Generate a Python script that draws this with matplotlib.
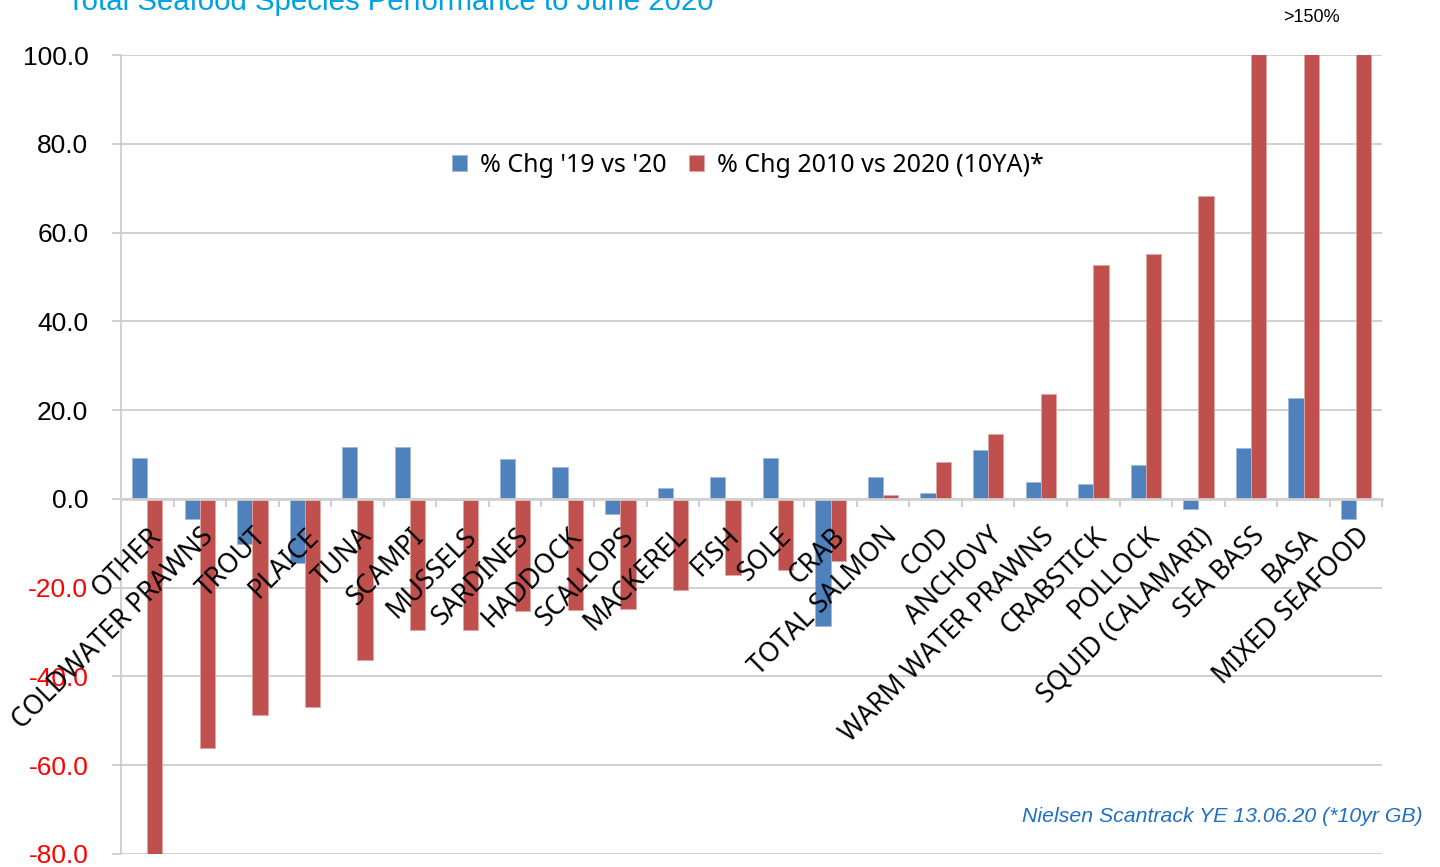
import matplotlib.pyplot as plt
import numpy as np

species = ['OTHER', 'COLDWATER PRAWNS', 'TROUT', 'PLAICE', 'TUNA', 'SCAMPI',
           'MUSSELS', 'SARDINES', 'HADDOCK', 'SCALLOPS', 'MACKEREL', 'FISH',
           'SOLE', 'CRAB', 'TOTAL SALMON', 'COD', 'ANCHOVY', 'WARM WATER PRAWNS',
           'CRABSTICK', 'POLLOCK', 'SQUID (CALAMARI)', 'SEA BASS', 'BASA',
           'MIXED SEAFOOD']
chg_1y = [9.2, -4.5, -10.1, -14.4, 11.7, 11.7, -0.3, 9.0, 7.2, -3.4, 2.5, 5.0,
          9.2, -28.6, 5.0, 1.4, 11.0, 3.8, 3.4, 7.6, -2.3, 11.5, 22.7, -4.5]
chg_10y = [-82.0, -56.1, -48.7, -46.9, -36.3, -29.5, -29.5, -25.2, -25.0, -24.8,
           -20.5, -17.1, -16.0, -14.0, 0.9, 8.3, 14.6, 23.6, 52.7, 55.2, 68.2,
           155.0, 165.0, 152.0]
yticks = [-80, -60, -40, -20, 0, 20, 40, 60, 80, 100]

blue = '#4F81BD'
red = '#C0504D'

fig = plt.figure(figsize=(14.4, 8.67), dpi=100)
ax = fig.add_axes([0.084, 0.015, 0.876, 0.9215])

x = np.arange(len(species))
w = 0.29
ax.bar(x - w / 2, chg_1y, w, color=blue, edgecolor='#9DB8DC', linewidth=0.6,
       label="% Chg '19 vs '20", zorder=2)
ax.bar(x + w / 2, chg_10y, w, color=red, edgecolor='#E2A5A3', linewidth=0.6,
       label='% Chg 2010 vs 2020 (10YA)*', zorder=2)

ax.set_xlim(-0.5, len(species) - 0.5)
ax.set_ylim(-80, 100)
ax.set_yticks(yticks)
ax.set_yticklabels([f'{v:.1f}' for v in yticks], fontsize=19,
                   family='Liberation Sans')
for lab, v in zip(ax.get_yticklabels(), yticks):
    lab.set_color('#FF0000' if v < 0 else 'black')
ax.tick_params(axis='y', length=6.5, color='#C8C8C8', width=1.2, pad=17)
ax.grid(axis='y', color='#C8C8C8', linewidth=1.2)
ax.yaxis.set_zorder(0.5)

for s in ['top', 'right']:
    ax.spines[s].set_visible(False)
ax.spines['left'].set_color('#C8C8C8')
ax.spines['left'].set_linewidth(1.2)

# category axis sits on the zero line, labels drawn over the bars
ax.spines['bottom'].set_position(('data', 0))
ax.spines['bottom'].set_color('#D0D0D0')
ax.spines['bottom'].set_linewidth(2)
ax.spines['bottom'].set_zorder(2.5)
ax.set_xticks(x)
ax.set_xticks(np.arange(-0.5, len(species), 1.0), minor=True)
ax.set_xticklabels(species, rotation=45, ha='right', va='top',
                   rotation_mode='anchor', fontsize=19, family='Noto Sans')
ax.tick_params(axis='x', which='major', length=0, pad=17)
ax.tick_params(axis='x', which='minor', length=6, width=1.5, color='#D0D0D0')
ax.xaxis.set_zorder(4)

ax.legend(loc='center', bbox_to_anchor=(0.497, 0.862), ncol=2, frameon=False,
          prop={'family': 'Noto Sans', 'size': 18}, handlelength=0.6,
          handleheight=0.6, handletextpad=0.5, columnspacing=0.9)

fig.text(0.0465, 0.9885, 'Total Seafood Species Performance to June 2020',
         color='#00A0E6', fontsize=21.2, family='Liberation Sans', va='baseline')
fig.text(0.911, 0.980, '>150%', ha='center', va='center', fontsize=13,
         family='Liberation Sans')
fig.text(0.988, 0.058, 'Nielsen Scantrack YE 13.06.20 (*10yr GB)',
         color='#1F6FC5', fontsize=15.3, style='italic', family='Liberation Sans',
         ha='right', va='center')

fig.savefig('out.png', dpi=100)
